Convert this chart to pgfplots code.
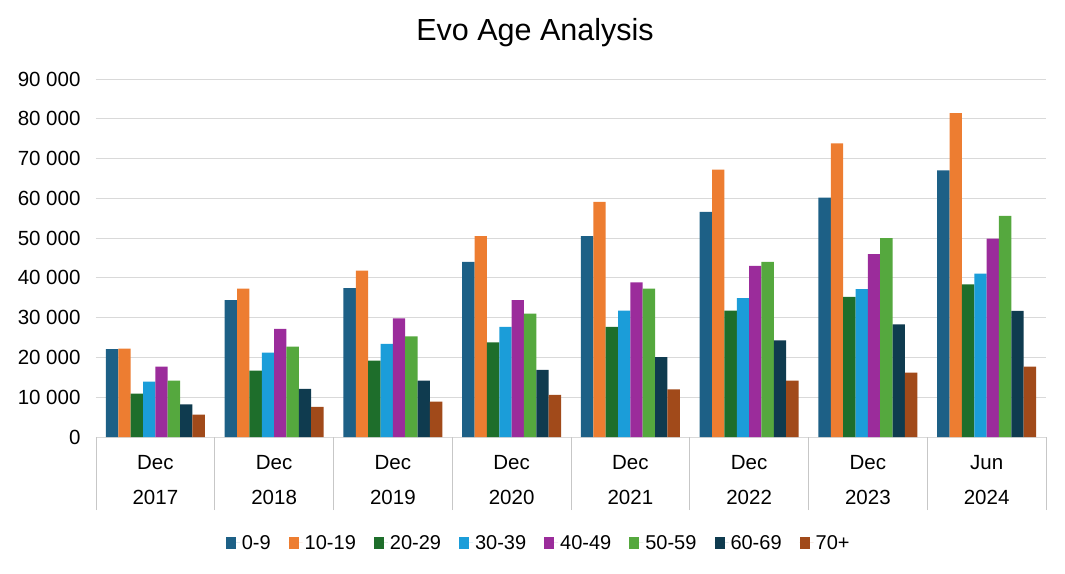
\documentclass[border=0pt]{standalone}
\usepackage{fontspec}
\setmainfont{Liberation Sans}
\usepackage{pgfplots}
\pgfplotsset{compat=1.18}
\definecolor{c0}{HTML}{1D6086}
\definecolor{c1}{HTML}{ED7D31}
\definecolor{c2}{HTML}{1E6E2B}
\definecolor{c3}{HTML}{1B9DD9}
\definecolor{c4}{HTML}{9B2C9B}
\definecolor{c5}{HTML}{55A83E}
\definecolor{c6}{HTML}{0F3B4F}
\definecolor{c7}{HTML}{A14A1A}
\definecolor{gridc}{HTML}{D9D9D9}
\begin{document}
\begin{tikzpicture}[x=1pt,y=1pt]
\useasboundingbox (0,0) rectangle (1065,573);
\node[font=\fontsize{30.5}{34}\selectfont] at (535,540) {Evo Age Analysis};
\begin{axis}[
  at={(96pt,136pt)}, anchor=south west,
  scale only axis, width=950pt, height=358pt,
  ybar=0pt, bar width=0.104,
  xmin=-0.5, xmax=7.5, ymin=0, ymax=90000,
  scaled y ticks=false,
  xtick pos=bottom,
  xtick={0,...,7},
  xticklabels={{Dec\\2017},{Dec\\2018},{Dec\\2019},{Dec\\2020},{Dec\\2021},{Dec\\2022},{Dec\\2023},{Jun\\2024}},
  xticklabel style={align=center, font=\fontsize{20.5}{35}\selectfont, yshift=-11pt},
  ytick={0,10000,...,90000},
  yticklabels={0,10 000,20 000,30 000,40 000,50 000,60 000,70 000,80 000,90 000},
  yticklabel style={font=\fontsize{20.5}{24}\selectfont, xshift=-12pt},
  axis line style={draw=none},
  xtick style={draw=none}, ytick style={draw=none},
  ymajorgrids, grid style={gridc, line width=1pt},
  extra x ticks={-0.5,0.5,...,7.5},
  extra x tick labels={},
  extra x tick style={grid=none, tick align=outside, xtick pos=bottom, major tick length=73pt, xtick style={draw=gridc!80!gray, line width=0.8pt}},
  legend style={at={(0.466,-0.296)}, anchor=center, draw=none, fill=none,
    font=\fontsize{20}{24}\selectfont, legend columns=-1,
    /tikz/every even column/.append style={column sep=16pt}},
  every axis plot post/.append style={legend image code/.code={\fill[##1] (0pt,-6pt) rectangle (10pt,6pt); \path (0pt,0pt) -- (14pt,0pt);}},
]
\addplot[fill=c0, draw=none] coordinates {(0,22100) (1,34400) (2,37400) (3,44000) (4,50500) (5,56600) (6,60150) (7,67000)};
\addplot[fill=c1, draw=none] coordinates {(0,22240) (1,37300) (2,41800) (3,50500) (4,59100) (5,67200) (6,73800) (7,81400)};
\addplot[fill=c2, draw=none] coordinates {(0,10900) (1,16700) (2,19200) (3,23800) (4,27700) (5,31800) (6,35200) (7,38400)};
\addplot[fill=c3, draw=none] coordinates {(0,13900) (1,21200) (2,23400) (3,27700) (4,31800) (5,34900) (6,37200) (7,41100)};
\addplot[fill=c4, draw=none] coordinates {(0,17700) (1,27200) (2,29800) (3,34400) (4,38900) (5,43000) (6,46000) (7,49900)};
\addplot[fill=c5, draw=none] coordinates {(0,14200) (1,22700) (2,25300) (3,31000) (4,37300) (5,44000) (6,50000) (7,55600)};
\addplot[fill=c6, draw=none] coordinates {(0,8200) (1,12100) (2,14200) (3,16900) (4,20100) (5,24300) (6,28300) (7,31700)};
\addplot[fill=c7, draw=none] coordinates {(0,5600) (1,7600) (2,8900) (3,10600) (4,12000) (5,14200) (6,16200) (7,17700)};
\legend{0-9,10-19,20-29,30-39,40-49,50-59,60-69,70+}
\end{axis}
\end{tikzpicture}
\end{document}
